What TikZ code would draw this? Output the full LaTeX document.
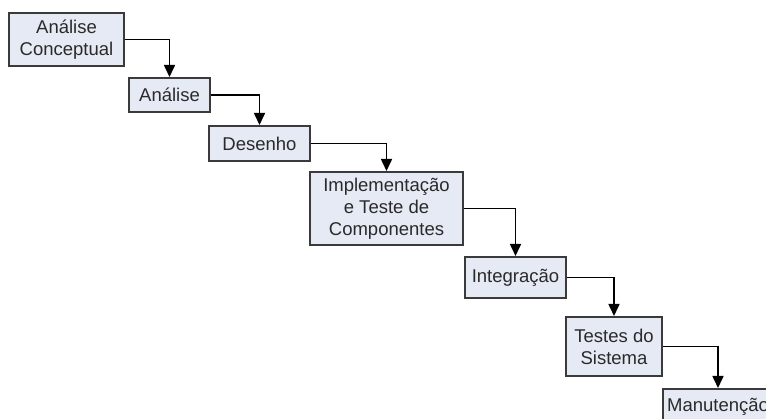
\documentclass[tikz,border=0pt]{standalone}
\usepackage{fontspec}
\setmainfont{Liberation Sans}
\usetikzlibrary{arrows.meta}
\definecolor{boxfill}{HTML}{E6EAF5}
\definecolor{boxline}{HTML}{3A3A3A}
\definecolor{txt}{HTML}{2A2A2A}
\tikzset{
  phase/.style={draw=boxline, fill=boxfill, line width=2pt, inner sep=0pt,
    align=center, text=txt, font=\fontsize{18.5}{22}\selectfont},
  flow/.style={draw=black, line width=1.6pt,
    -{Triangle[length=12pt,width=11pt]}}
}
\begin{document}
\begin{tikzpicture}[x=1pt,y=-1pt]
\useasboundingbox (0,0) rectangle (766,419);
\clip (0,0) rectangle (766,419);
\node[phase, minimum width=115pt, minimum height=53pt] (a) at (66.5,39.5) {Análise\\Conceptual};
\node[phase, minimum width=81pt, minimum height=34pt] (b) at (169.5,95) {Análise};
\node[phase, minimum width=101pt, minimum height=35pt] (c) at (259.5,143.5) {Desenho};
\node[phase, minimum width=153pt, minimum height=73pt] (d) at (386.5,208.5) {Implementação\\e Teste de\\Componentes};
\node[phase, minimum width=101pt, minimum height=41pt] (e) at (515.5,277.5) {Integração};
\node[phase, minimum width=96pt, minimum height=59pt] (f) at (614,346.5) {Testes do\\Sistema};
\node[phase, minimum width=110pt, minimum height=35pt] (g) at (718,406.5) {Manutenção};
\draw[flow] (a.east) -| (b.north);
\draw[flow] (b.east) -| (c.north);
\draw[flow] (c.east) -| (d.north);
\draw[flow] (d.east) -| (e.north);
\draw[flow] (e.east) -| (f.north);
\draw[flow] (f.east) -| (g.north);
\end{tikzpicture}
\end{document}
